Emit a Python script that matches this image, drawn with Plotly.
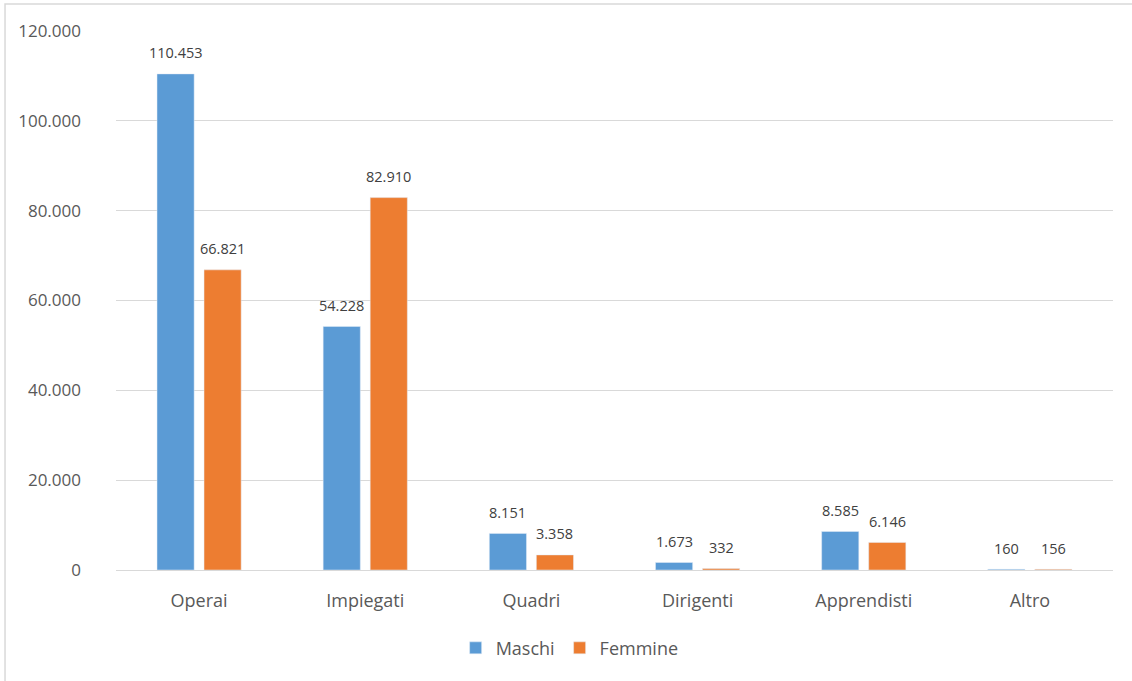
import plotly.graph_objects as go

categories = ["Operai", "Impiegati", "Quadri", "Dirigenti", "Apprendisti", "Altro"]
maschi = [110453, 54228, 8151, 1673, 8585, 160]
femmine = [66821, 82910, 3358, 332, 6146, 156]
y_ticks = [0, 20000, 40000, 60000, 80000, 100000, 120000]

FONT = "'Open Sans', sans-serif"
TXT = "#595959"

fig = go.Figure()
series = [("Maschi", maschi, "#5b9bd5", -23.5), ("Femmine", femmine, "#ed7d31", 23.5)]
for name, vals, col, dx in series:
    fig.add_trace(go.Bar(name=name, x=categories, y=vals, marker_color=col))
    for c, v in zip(categories, vals):
        fig.add_annotation(x=c, y=v, text=f"{v:,}".replace(",", "."), showarrow=False,
                           xshift=dx, yshift=21, yanchor="middle",
                           font=dict(size=14.5, color="#404040", family=FONT))

fig.update_layout(
    width=1132, height=681,
    margin=dict(l=116, r=19, t=31, b=111),
    paper_bgcolor="white", plot_bgcolor="white",
    separators=",.",
    barmode="group", bargap=0.434, bargroupgap=0.21,
    font=dict(family=FONT, color=TXT, size=17),
    legend=dict(orientation="h", x=0.455, xanchor="center", y=-0.145, yanchor="middle",
                font=dict(size=18, color=TXT), itemwidth=30, traceorder="normal"),
    showlegend=True,
)
fig.update_yaxes(range=[0, 120000], tickvals=y_ticks, tickformat=",", showgrid=True,
                 gridcolor="#d9d9d9", gridwidth=1, zeroline=True, zerolinecolor="#d9d9d9",
                 zerolinewidth=1, showline=False, ticklabelstandoff=34, tickfont=dict(size=17))
fig.update_xaxes(showline=False, ticklabelstandoff=18, tickfont=dict(size=18))

# outer chart frame (page x=5, y=4)
fig.add_shape(type="rect", xref="paper", yref="paper", x0=-0.1113, x1=1.2, y0=-0.4, y1=1.0501,
              line=dict(color="#d9d9d9", width=1.5), fillcolor="rgba(0,0,0,0)", layer="below")

fig.write_html("out.html", config={"displayModeBar": False},
               post_script="document.body.style.margin='0';document.body.style.overflow='hidden';")
